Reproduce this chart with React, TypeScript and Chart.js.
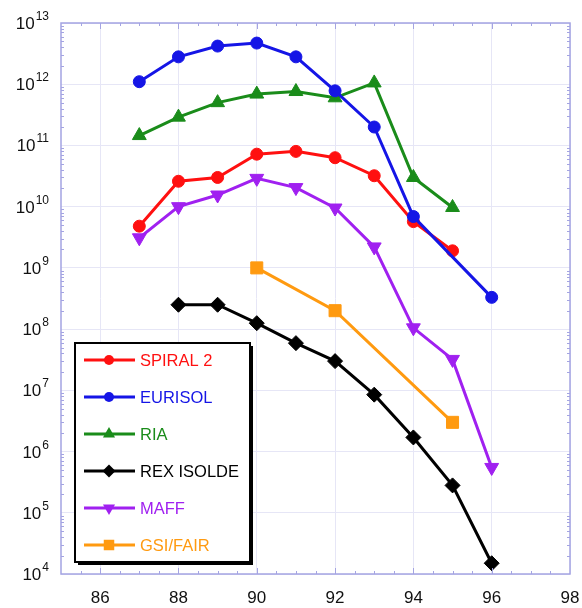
import React, { useEffect, useRef } from 'react';
import { Chart, registerables } from 'chart.js';

Chart.register(...registerables);

// ---- data ----
const seriesNames = ['SPIRAL 2', 'EURISOL', 'RIA', 'REX ISOLDE', 'MAFF', 'GSI/FAIR'];
const seriesColors = ['#ff1010', '#1515e6', '#1a8c1a', '#000000', '#a020f0', '#ff9a10'];
const seriesOrder = [6, 0, 5, 4, 3, 2];

const spiralX = [87, 88, 89, 90, 91, 92, 93, 94, 95];
const spiralY = [4.8e9, 2.6e10, 3.0e10, 7.2e10, 8.0e10, 6.3e10, 3.2e10, 5.7e9, 1.9e9];

const eurisolX = [87, 88, 89, 90, 91, 92, 93, 94, 96];
const eurisolY = [1.1e12, 2.8e12, 4.2e12, 4.7e12, 2.8e12, 7.8e11, 2.0e11, 6.9e9, 3.3e8];

const riaX = [87, 88, 89, 90, 91, 92, 93, 94, 95];
const riaY = [1.45e11, 2.9e11, 5.0e11, 6.9e11, 7.6e11, 6.0e11, 1.05e12, 3.0e10, 9.7e9];

const rexX = [88, 89, 90, 91, 92, 93, 94, 95, 96];
const rexY = [2.5e8, 2.5e8, 1.25e8, 5.9e7, 3.0e7, 8.5e6, 1.7e6, 2.8e5, 1.5e4];

const maffX = [87, 88, 89, 90, 91, 92, 93, 94, 95, 96];
const maffY = [3.1e9, 1.0e10, 1.55e10, 2.9e10, 2.05e10, 9.5e9, 2.2e9, 1.05e8, 3.2e7, 5.5e5];

const gsiX = [90, 92, 95];
const gsiY = [1.0e9, 2.0e8, 3.0e6];

const xTicks = [86, 88, 90, 92, 94, 96, 98];
const yExponents = [4, 5, 6, 7, 8, 9, 10, 11, 12, 13];

const FONT = '"Liberation Sans", Arial, Helvetica, sans-serif';
const GRID = '#e6e6f6';
const FRAME = '#a4a4e2';

type Style = { style: string; radius: number; rotation: number };
const markerStyles: Style[] = [
  { style: 'circle', radius: 6, rotation: 0 },
  { style: 'circle', radius: 6, rotation: 0 },
  { style: 'triangle', radius: 8, rotation: 0 },
  { style: 'rectRot', radius: 7.5, rotation: 0 },
  { style: 'triangle', radius: 8, rotation: 180 },
  { style: 'rect', radius: 8.5, rotation: 0 },
];

const xsList = [spiralX, eurisolX, riaX, rexX, maffX, gsiX];
const ysList = [spiralY, eurisolY, riaY, rexY, maffY, gsiY];

function drawMarker(ctx: CanvasRenderingContext2D, kind: number, x: number, y: number, r: number) {
  ctx.beginPath();
  if (kind === 0 || kind === 1) {
    ctx.arc(x, y, r, 0, Math.PI * 2);
  } else if (kind === 2) {
    ctx.moveTo(x, y - r);
    ctx.lineTo(x + r * 0.866, y + r * 0.5);
    ctx.lineTo(x - r * 0.866, y + r * 0.5);
  } else if (kind === 4) {
    ctx.moveTo(x, y + r);
    ctx.lineTo(x + r * 0.866, y - r * 0.5);
    ctx.lineTo(x - r * 0.866, y - r * 0.5);
  } else if (kind === 3) {
    ctx.moveTo(x, y - r);
    ctx.lineTo(x + r, y);
    ctx.lineTo(x, y + r);
    ctx.lineTo(x - r, y);
  } else {
    ctx.rect(x - r * 0.75, y - r * 0.75, r * 1.5, r * 1.5);
  }
  ctx.closePath();
  ctx.fill();
}

const decorPlugin = {
  id: 'decor',
  afterDraw(chart: any) {
    const ctx: CanvasRenderingContext2D = chart.ctx;
    const { left, right, top, bottom } = chart.chartArea;
    const xs = chart.scales.x;
    const ys = chart.scales.y;
    ctx.save();

    // minor & major ticks
    ctx.strokeStyle = FRAME;
    ctx.lineWidth = 1;
    ctx.beginPath();
    for (let v = 85.5; v < 98; v += 0.5) {
      const px = Math.round(xs.getPixelForValue(v)) + 0.5;
      const len = Math.abs(v % 2) === 0 ? 6 : 3;
      ctx.moveTo(px, bottom);
      ctx.lineTo(px, bottom - len);
      ctx.moveTo(px, top);
      ctx.lineTo(px, top + len);
    }
    for (let e = 4; e < 13; e++) {
      for (let m = 2; m <= 9; m++) {
        const py = Math.round(ys.getPixelForValue(m * Math.pow(10, e))) + 0.5;
        ctx.moveTo(left, py);
        ctx.lineTo(left + 3, py);
        ctx.moveTo(right, py);
        ctx.lineTo(right - 3, py);
      }
    }
    ctx.stroke();

    // frame
    ctx.lineWidth = 1.5;
    ctx.strokeStyle = FRAME;
    ctx.strokeRect(left, top, right - left, bottom - top);

    // y labels
    ctx.fillStyle = '#111';
    for (const e of yExponents) {
      const py = ys.getPixelForValue(Math.pow(10, e));
      const R = left - 12;
      ctx.font = `12px ${FONT}`;
      const expStr = String(e);
      const expW = ctx.measureText(expStr).width;
      ctx.font = `17px ${FONT}`;
      const baseW = ctx.measureText('10').width;
      ctx.textAlign = 'left';
      ctx.textBaseline = 'alphabetic';
      ctx.fillText('10', R - expW - baseW - 1, py + 6);
      ctx.font = `12px ${FONT}`;
      ctx.fillText(expStr, R - expW, py - 3);
    }

    // x labels
    ctx.font = `17px ${FONT}`;
    ctx.textAlign = 'center';
    ctx.textBaseline = 'alphabetic';
    for (const v of xTicks) {
      ctx.fillText(String(v), xs.getPixelForValue(v), bottom + 29);
    }

    // legend
    const L = 75, T = 343, W = 175, H = 219;
    ctx.fillStyle = '#000';
    ctx.fillRect(L + 3, T + 3, W, H);
    ctx.fillStyle = '#fff';
    ctx.fillRect(L, T, W, H);
    ctx.lineWidth = 2;
    ctx.strokeStyle = '#000';
    ctx.strokeRect(L, T, W, H);
    ctx.font = `16.5px ${FONT}`;
    ctx.textAlign = 'left';
    ctx.textBaseline = 'middle';
    seriesNames.forEach((name, i) => {
      const yy = 360 + i * 37;
      const col = seriesColors[i];
      ctx.strokeStyle = col;
      ctx.lineWidth = 3;
      ctx.beginPath();
      ctx.moveTo(84, yy);
      ctx.lineTo(135, yy);
      ctx.stroke();
      ctx.fillStyle = col;
      const mr = [5, 5, 7, 6.5, 7, 7][i];
      drawMarker(ctx, i, 109, yy, mr);
      ctx.fillStyle = col;
      ctx.fillText(name, 140, yy + 1);
    });

    ctx.restore();
  },
};

export default function App() {
  const ref = useRef<HTMLCanvasElement | null>(null);

  useEffect(() => {
    if (!ref.current) return;
    const datasets = seriesNames.map((name, i) => ({
      label: name,
      data: xsList[i].map((x, j) => ({ x, y: ysList[i][j] })),
      borderColor: seriesColors[i],
      backgroundColor: seriesColors[i],
      pointBackgroundColor: seriesColors[i],
      pointBorderColor: seriesColors[i],
      borderWidth: 3,
      pointBorderWidth: 1,
      pointStyle: markerStyles[i].style,
      pointRadius: markerStyles[i].radius,
      pointRotation: markerStyles[i].rotation,
      tension: 0,
      fill: false,
      order: seriesOrder[i],
    }));
    const chart = new Chart(ref.current, {
      type: 'line',
      data: { datasets },
      options: {
        animation: false,
        responsive: true,
        maintainAspectRatio: false,
        layout: { padding: { left: 61, top: 23, right: 12, bottom: 34 } },
        plugins: { legend: { display: false }, tooltip: { enabled: false } },
        scales: {
          x: {
            type: 'linear',
            min: 85,
            max: 98,
            afterBuildTicks: (s: any) => {
              s.ticks = xTicks.map((v) => ({ value: v }));
            },
            ticks: { display: false },
            grid: { color: GRID, drawTicks: false, lineWidth: 1 },
            border: { display: false },
          },
          y: {
            type: 'logarithmic',
            min: 1e4,
            max: 1e13,
            afterBuildTicks: (s: any) => {
              s.ticks = yExponents.map((e) => ({ value: Math.pow(10, e) }));
            },
            ticks: { display: false },
            grid: { color: GRID, drawTicks: false, lineWidth: 1 },
            border: { display: false },
          },
        },
      } as any,
      plugins: [decorPlugin],
    });
    return () => chart.destroy();
  }, []);

  return (
    <div style={{ position: 'fixed', left: 0, top: 0, width: 582, height: 608, background: '#fff' }}>
      <canvas ref={ref} />
    </div>
  );
}
